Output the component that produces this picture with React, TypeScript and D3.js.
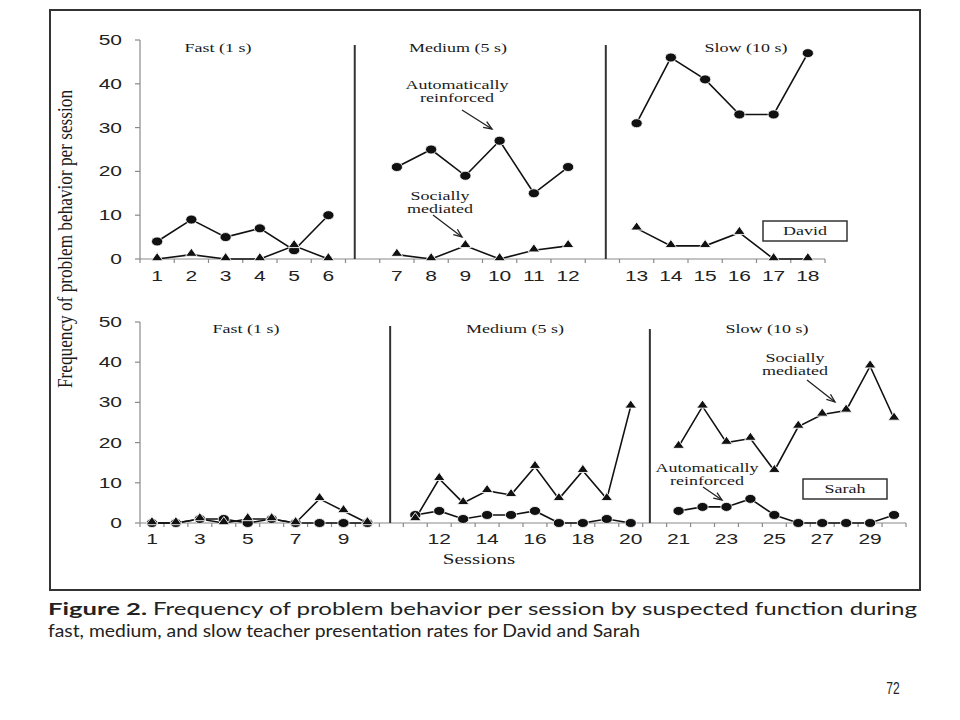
import React from "react";
import * as d3 from "d3";

// ---------- data ----------
const phaseNames = ["Fast (1 s)", "Medium (5 s)", "Slow (10 s)"];
const yTicks = [0, 10, 20, 30, 40, 50];

const davidPhaseLengths = [6, 6, 6];
const davidSessions = [1, 2, 3, 4, 5, 6, 7, 8, 9, 10, 11, 12, 13, 14, 15, 16, 17, 18];
const davidAuto = [4, 9, 5, 7, 2, 10, 21, 25, 19, 27, 15, 21, 31, 46, 41, 33, 33, 47];
const davidSocial = [0, 1, 0, 0, 3, 0, 1, 0, 3, 0, 2, 3, 7, 3, 3, 6, 0, 0];
const davidTickLabels = davidSessions;

const sarahPhaseLengths = [10, 10, 10];
const sarahSessions = d3.range(1, 31);
const sarahAuto = [0, 0, 1, 1, 0, 1, 0, 0, 0, 0, 2, 3, 1, 2, 2, 3, 0, 0, 1, 0, 3, 4, 4, 6, 2, 0, 0, 0, 0, 2];
const sarahSocial = [0, 0, 1, 0, 1, 1, 0, 6, 3, 0, 1, 11, 5, 8, 7, 14, 6, 13, 6, 29, 19, 29, 20, 21, 13, 24, 27, 28, 39, 26];
const sarahTickLabels = [1, 3, 5, 7, 9, 12, 14, 16, 18, 20, 21, 23, 25, 27, 29];

const captionBold = "Figure 2.";
const captionLine1 = "Frequency of problem behavior per session by suspected function during";
const captionLine2 = "fast, medium, and slow teacher presentation rates for David and Sarah";

// ---------- helpers ----------
const SERIF = "'Liberation Serif', 'Times New Roman', serif";
const SANS = "'Liberation Sans', Arial, sans-serif";
const CAPTION = "Lato, 'Open Sans', sans-serif";

function ST({ x, y, anchor = "middle", size = 12, family = SERIF, sx = 1.5, fill = "#1a1a1a", weight = "normal", children }: any) {
  return (
    <text
      transform={`translate(${x},${y}) scale(${sx},1)`}
      textAnchor={anchor}
      fontSize={size}
      fontFamily={family}
      fontWeight={weight}
      fill={fill}
    >
      {children}
    </text>
  );
}

function slotsFor(phaseLengths: number[]) {
  const slots: number[] = [];
  const phaseOf: number[] = [];
  let s = 0;
  phaseLengths.forEach((len, p) => {
    for (let i = 0; i < len; i++) {
      slots.push(s++);
      phaseOf.push(p);
    }
    s++; // gap between phases
  });
  return { slots, phaseOf };
}

function Arrow({ x1, y1, x2, y2 }: any) {
  const ang = Math.atan2(y2 - y1, x2 - x1);
  const L = 9, w = 0.38;
  const a1 = [x2 - L * Math.cos(ang - w), y2 - L * Math.sin(ang - w)];
  const a2 = [x2 - L * Math.cos(ang + w), y2 - L * Math.sin(ang + w)];
  return (
    <g stroke="#222" strokeWidth={1.3} fill="none">
      <line x1={x1} y1={y1} x2={x2} y2={y2} />
      <path d={`M${a1[0]},${a1[1]} L${x2},${y2} L${a2[0]},${a2[1]}`} />
    </g>
  );
}

function Panel({ cfg }: any) {
  const { phaseLengths, sessions, auto, social, tickLabels, xRange, yRange, slotMax, dividers, dividerTops, labelY, tickLabelY } = cfg;
  const { slots, phaseOf } = slotsFor(phaseLengths);
  const x = d3.scaleLinear().domain([-0.5, slotMax + 0.5]).range(xRange);
  const y = d3.scaleLinear().domain([0, 50]).range(yRange);
  const pts = sessions.map((s: number, i: number) => ({ s, slot: slots[i], phase: phaseOf[i], a: auto[i], so: social[i] }));
  const line = (key: string) =>
    d3.line<any>().x((d) => x(d.slot)).y((d) => y(d[key]));
  const halfTicks = d3.range(-0.5, slotMax + 1, 1);
  const axisColor = "#8a8a8a";
  const tri = d3.symbol().type(d3.symbolTriangle).size(38)();

  return (
    <g>
      {/* axes */}
      <line x1={xRange[0]} x2={xRange[0]} y1={yRange[1]} y2={yRange[0]} stroke={axisColor} strokeWidth={1.2} />
      <line x1={xRange[0]} x2={xRange[1]} y1={yRange[0]} y2={yRange[0]} stroke={axisColor} strokeWidth={1.2} />
      {yTicks.map((t) => (
        <g key={"yt" + t}>
          <line x1={xRange[0] - 5} x2={xRange[0]} y1={y(t)} y2={y(t)} stroke={axisColor} strokeWidth={1.2} />
          <ST x={122} y={y(t) + 5} anchor="end" size={14} family={SANS} sx={1.5} fill="#222">{t}</ST>
        </g>
      ))}
      {halfTicks.map((t: number) => (
        <line key={"xt" + t} x1={x(t)} x2={x(t)} y1={yRange[0]} y2={yRange[0] + 4} stroke={axisColor} strokeWidth={1.2} />
      ))}
      {pts.filter((p: any) => tickLabels.includes(p.s)).map((p: any) => (
        <ST key={"xl" + p.s} x={x(p.slot)} y={tickLabelY} size={14} family={SANS} sx={1.5} fill="#222">{p.s}</ST>
      ))}
      {/* phase lines */}
      {dividers.map((d: number, i: number) => (
        <line key={"dv" + i} x1={x(d)} x2={x(d)} y1={dividerTops[i]} y2={yRange[0]} stroke="#333" strokeWidth={2} />
      ))}
      {/* phase labels */}
      {phaseNames.map((n, i) => (
        <ST key={"pn" + i} x={cfg.labelX[i]} y={labelY} size={12}>{n}</ST>
      ))}
      {/* data lines */}
      {[0, 1, 2].map((p) => {
        const seg = pts.filter((d: any) => d.phase === p);
        return (
          <g key={"ln" + p} fill="none" stroke="#111" strokeWidth={1.6}>
            <path d={line("a")(seg) || ""} />
            <path d={line("so")(seg) || ""} />
          </g>
        );
      })}
      {pts.map((p: any) => (
        <ellipse key={"c" + p.s} cx={x(p.slot)} cy={y(p.a)} rx={5.6} ry={4.5} fill="#111" stroke="#fff" strokeWidth={0.8} />
      ))}
      {pts.map((p: any) => (
        <path key={"t" + p.s} d={tri} transform={`translate(${x(p.slot)},${y(p.so) - 1}) scale(1.25,1)`} fill="#111" stroke="#fff" strokeWidth={0.8} />
      ))}
    </g>
  );
}

const davidCfg = {
  phaseLengths: davidPhaseLengths,
  sessions: davidSessions,
  auto: davidAuto,
  social: davidSocial,
  tickLabels: davidTickLabels,
  xRange: [140, 825],
  yRange: [259, 40],
  slotMax: 19,
  dividers: [5.77, 13.1],
  dividerTops: [45, 45],
  labelX: [218, 458, 746],
  labelY: 52,
  tickLabelY: 281,
};

const sarahCfg = {
  phaseLengths: sarahPhaseLengths,
  sessions: sarahSessions,
  auto: sarahAuto,
  social: sarahSocial,
  tickLabels: sarahTickLabels,
  xRange: [140, 906],
  yRange: [523, 322],
  slotMax: 31,
  dividers: [9.95, 20.8],
  dividerTops: [326, 329],
  labelX: [246, 515, 767],
  labelY: 333,
  tickLabelY: 544,
};

export default function App() {
  return (
    <svg width={960} height={720} style={{ display: "block", position: "absolute", left: 0, top: 0, background: "#fff" }}>
      <rect x={0} y={0} width={960} height={720} fill="#fff" />
      {/* outer frame */}
      <rect x={50} y={10} width={870} height={580} fill="none" stroke="#333" strokeWidth={2} />

      {/* y-axis title */}
      <text
        transform="translate(72,239) scale(1.35,1) rotate(-90)"
        textAnchor="middle"
        fontSize={15}
        fontFamily={SERIF}
        fill="#1a1a1a"
        textLength={298}
        lengthAdjust="spacingAndGlyphs"
      >
        Frequency of problem behavior per session
      </text>

      <Panel cfg={davidCfg} />
      <Panel cfg={sarahCfg} />

      {/* David annotations */}
      <ST x={457} y={89}>Automatically</ST>
      <ST x={457} y={102}>reinforced</ST>
      <Arrow x1={462} y1={110} x2={492} y2={129} />
      <ST x={440} y={200}>Socially</ST>
      <ST x={440} y={213}>mediated</ST>
      <Arrow x1={433} y1={215} x2={462} y2={237} />
      <rect x={763} y={221} width={84} height={20} fill="#fff" stroke="#333" strokeWidth={1.5} />
      <ST x={805} y={235}>David</ST>

      {/* Sarah annotations */}
      <ST x={795} y={362}>Socially</ST>
      <ST x={795} y={375}>mediated</ST>
      <Arrow x1={807} y1={380} x2={835} y2={402} />
      <ST x={707} y={472}>Automatically</ST>
      <ST x={707} y={485}>reinforced</ST>
      <Arrow x1={703} y1={487} x2={722} y2={500} />
      <rect x={803} y={479} width={84} height={20} fill="#fff" stroke="#333" strokeWidth={1.5} />
      <ST x={845} y={493}>Sarah</ST>

      <ST x={479} y={564} size={14}>Sessions</ST>

      {/* caption */}
      <text x={48} y={614.5} fontSize={17.5} fontWeight="bold" fontFamily={CAPTION} fill="#222" textLength={99} lengthAdjust="spacingAndGlyphs">
        {captionBold}
      </text>
      <text x={153} y={614.5} fontSize={17.5} fontFamily={CAPTION} fill="#222" textLength={764} lengthAdjust="spacingAndGlyphs">
        {captionLine1}
      </text>
      <text x={48} y={636.5} fontSize={17.5} fontFamily={CAPTION} fill="#222" textLength={592} lengthAdjust="spacingAndGlyphs">
        {captionLine2}
      </text>

      <ST x={893} y={694} size={16} family={SANS} sx={0.75} fill="#222">72</ST>
    </svg>
  );
}
